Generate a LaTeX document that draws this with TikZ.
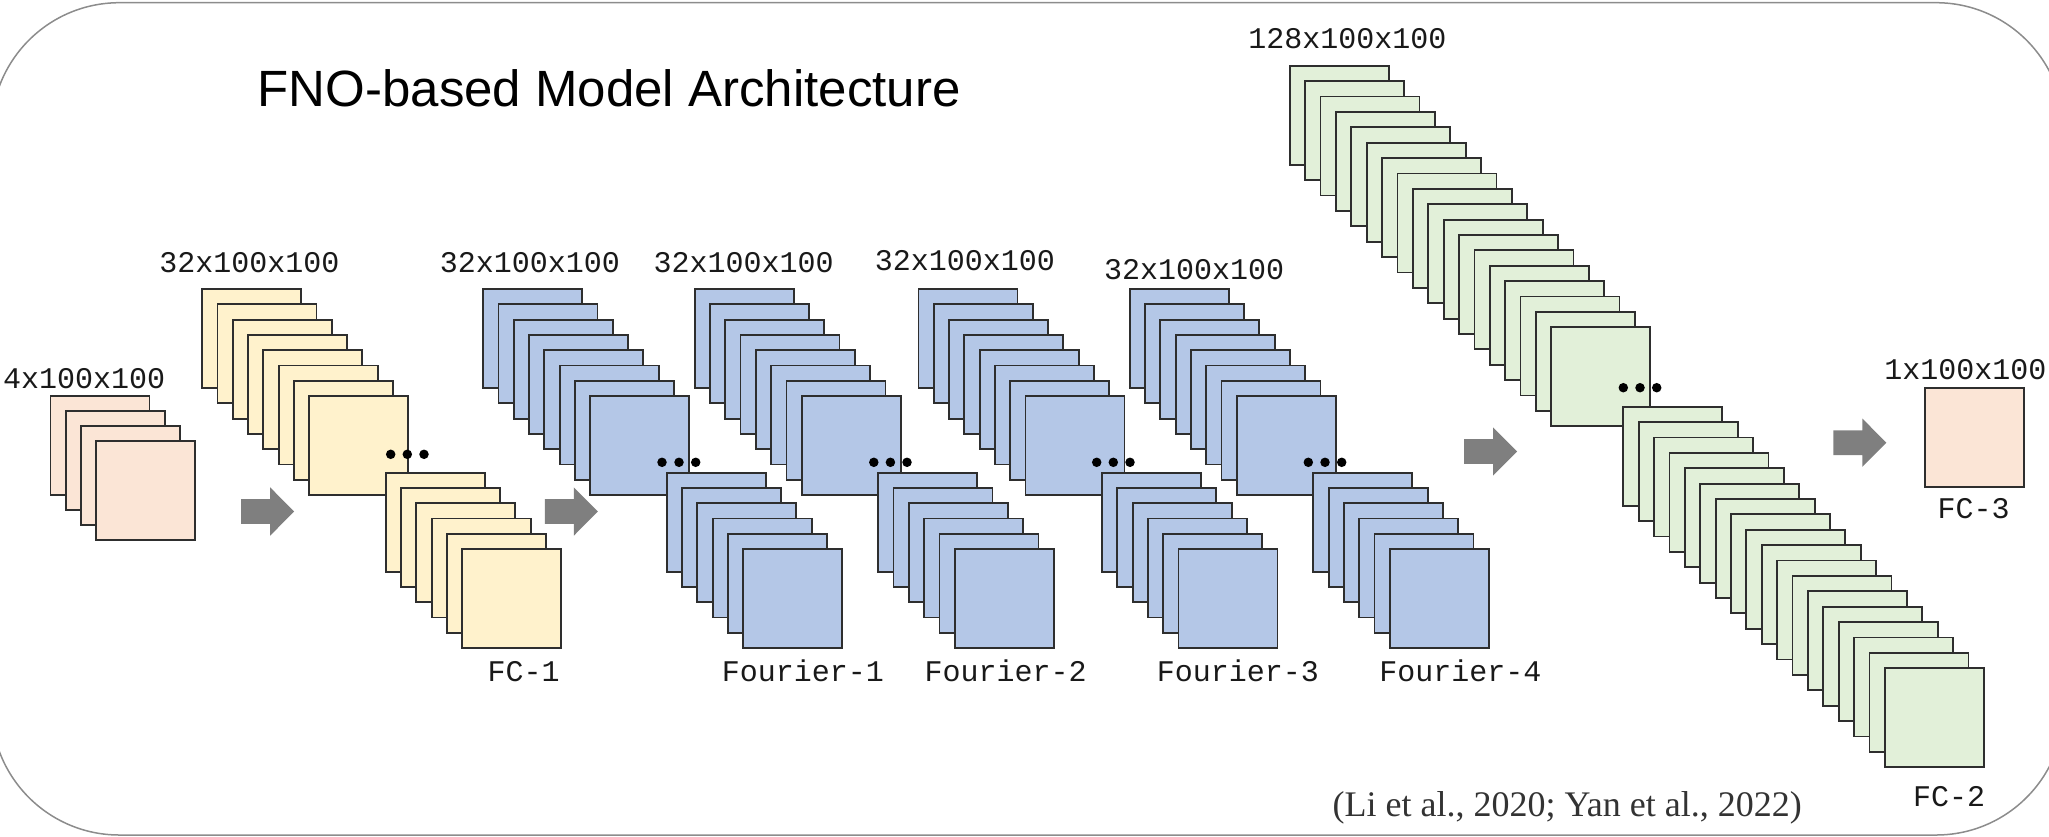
\documentclass[tikz,border=0pt]{standalone}
\usepackage{fontspec}
\setmainfont{Liberation Sans}
\newfontfamily\monof{Liberation Mono}
\newfontfamily\citef{Liberation Serif}
\definecolor{pinkfill}{HTML}{FBE5D6}
\definecolor{yellowfill}{HTML}{FFF2CC}
\definecolor{bluefill}{HTML}{B4C7E7}
\definecolor{greenfill}{HTML}{E2F0D9}
\definecolor{arrowgray}{HTML}{7F7F7F}
\definecolor{edgegray}{HTML}{2E2E2E}
\definecolor{framegray}{HTML}{8C8C8C}
\definecolor{citegray}{HTML}{333333}
% #1 name prefix, #2 x0 (left of first square), #3 y0 (top of first square), #4 step, #5 fill, #6 indices
\newcommand\layerstack[6]{%
  \foreach \i in {#6}{%
    \node[sq, fill=#5] (#1\i) at ({#2+#4*\i+49.5},{#3+#4*\i+49.5}) {};
  }%
}
% #1 left x, #2 centre y
\newcommand\blockarrow[2]{%
  \fill[arrowgray] (#1,#2-12.3) -- ++(29,0) -- ++(0,-11.9) -- (#1+53,#2)
    -- (#1+29,#2+24.2) -- ++(0,-11.9) -- (#1,#2+12.3) -- cycle;
}
% #1 name, #2 y, #3 x1, #4 x2, #5 x3
\newcommand\dotrow[5]{%
  \node[dotmark] (#1a) at (#3,#2) {};
  \node[dotmark] (#1b) at (#4,#2) {};
  \node[dotmark] (#1c) at (#5,#2) {};
}
\begin{document}
\begin{tikzpicture}[x=1pt,y=-1pt,
  sq/.style={draw=edgegray, line width=1.8pt, minimum width=99pt, minimum height=99pt, inner sep=0pt, outer sep=0pt},
  dimlabel/.style={font=\monof\fontsize{30}{36}\selectfont, anchor=base, inner sep=0pt, text=black!90},
  dotmark/.style={circle, fill=black, inner sep=0pt, minimum size=9.5pt}]
\useasboundingbox (0,0) rectangle (2049,836);
\begin{scope}
\clip (0,0) rectangle (2049,836);
\draw[framegray, line width=1.5pt, rounded corners=128pt] (-8.6,2.7) rectangle (2064,835);
\end{scope}

% title
\node[anchor=base west, inner sep=0pt, font=\fontsize{51}{60}\selectfont] (title) at (257.5,106.7) {FNO-based Model Architecture};

% input
\layerstack{in}{50.5}{395.7}{15.2}{pinkfill}{0,1,2,3}
\node[dimlabel] (inlab) at (84.2,388.3) {4x100x100};

% FC-1
\layerstack{fca}{202.1}{289}{15.3}{yellowfill}{0,...,7}
\layerstack{fca}{202.1}{289}{15.3}{yellowfill}{12,...,17}
\dotrow{fcadots}{454.3}{390.7}{407.3}{424}
\node[dimlabel] (fcatop) at (249.4,272.7) {32x100x100};
\node[dimlabel] (fcalab) at (523.7,681.7) {FC-1};

% Fourier-1
\layerstack{foa}{483.1}{289}{15.3}{bluefill}{0,...,7}
\layerstack{foa}{483.1}{289}{15.3}{bluefill}{12,...,17}
\dotrow{foadots}{462.3}{662}{679}{695.7}
\node[dimlabel] (foatop) at (530,272.7) {32x100x100};
\node[dimlabel] (foalab) at (802.8,681.7) {Fourier-1};

% Fourier-2
\layerstack{fob}{694.6}{289}{15.3}{bluefill}{0,...,7}
\layerstack{fob}{694.6}{289}{15.3}{bluefill}{12,...,17}
\dotrow{fobdots}{462.3}{873.8}{890.4}{907}
\node[dimlabel] (fobtop) at (743.6,272.7) {32x100x100};
\node[dimlabel] (foblab) at (1005.6,681.7) {Fourier-2};

% Fourier-3
\layerstack{foc}{918.4}{289}{15.3}{bluefill}{0,...,7}
\layerstack{foc}{918.4}{289}{15.3}{bluefill}{12,...,17}
\dotrow{focdots}{462.3}{1096.7}{1113.3}{1130}
\node[dimlabel] (foctop) at (964.9,270.7) {32x100x100};
\node[dimlabel] (foclab) at (1237.8,681.7) {Fourier-3};

% Fourier-4
\layerstack{fod}{1129.7}{289}{15.3}{bluefill}{0,...,7}
\layerstack{fod}{1129.7}{289}{15.3}{bluefill}{12,...,17}
\dotrow{foddots}{462.3}{1308.3}{1325}{1341.7}
\node[dimlabel] (fodtop) at (1194.2,279.3) {32x100x100};
\node[dimlabel] (fodlab) at (1460.3,681.7) {Fourier-4};

% FC-2
\layerstack{fcb}{1289.7}{65.7}{15.39}{greenfill}{0,...,17}
\layerstack{fcbb}{1623.3}{406.7}{15.38}{greenfill}{0,...,17}
\dotrow{fcbdots}{387.7}{1623.3}{1640}{1656.7}
\node[dimlabel] (fcbtop) at (1347.3,48.3) {128x100x100};
\node[dimlabel] (fcblab) at (1949.2,806) {FC-2};

% FC-3
\node[sq, fill=pinkfill] (fcc) at (1974.4,437.7) {};
\node[dimlabel] (fcctop) at (1965.3,379) {1x100x100};
\node[dimlabel] (fcclab) at (1973.5,518.3) {FC-3};

% block arrows
\blockarrow{241.1}{511.5}
\blockarrow{544.8}{511.5}
\blockarrow{1464}{451.5}
\blockarrow{1833.3}{442.7}

% citation
\node[anchor=base east, inner sep=0pt, text=citegray, font=\citef\fontsize{36}{42}\selectfont] (cite) at (1802,816.7) {(Li et al., 2020; Yan et al., 2022)};
\end{tikzpicture}
\end{document}
